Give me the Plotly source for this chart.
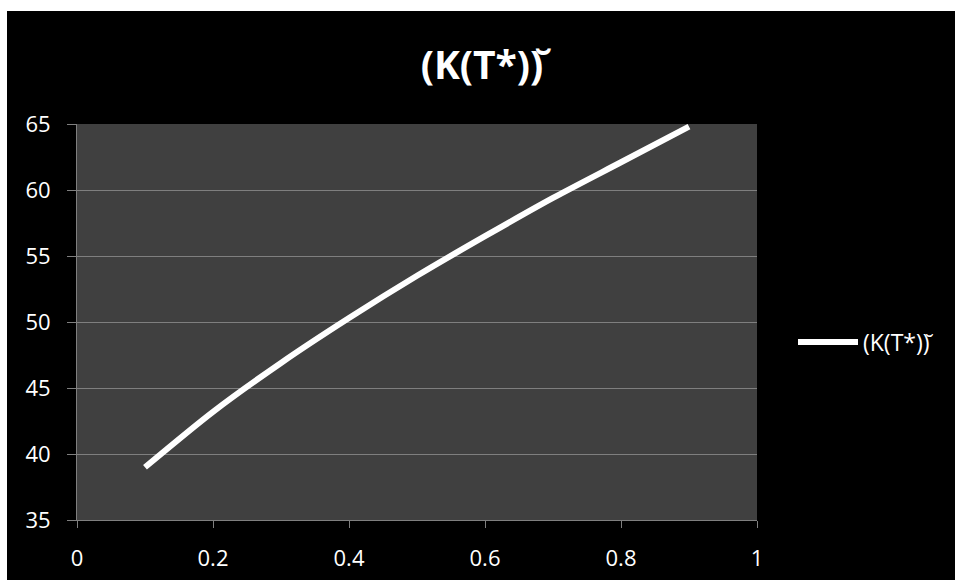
import plotly.graph_objects as go

x_vals = [0.1, 0.2, 0.3, 0.4, 0.5, 0.6, 0.7, 0.8, 0.9]
y_vals = [39.0, 43.2, 46.9, 50.3, 53.5, 56.5, 59.4, 62.1, 64.8]
series_name = "(K(T*))\u0306"
title_text = "(K(T*))\u0306"
x_ticks = [0, 0.2, 0.4, 0.6, 0.8, 1]
x_tick_labels = ["0", "0.2", "0.4", "0.6", "0.8", "1"]
y_ticks = [35, 40, 45, 50, 55, 60, 65]

W, H = 955, 580
L, R, T, B = 77, 198, 124, 60
PW, PH = W - L - R, H - T - B

def px_to_paper_x(px):
    return (px - L) / PW

def px_to_paper_y(py):
    return (H - B - py) / PH

FONT = "Open Sans"
grid = "#7f7f7f"

fig = go.Figure()
fig.add_trace(go.Scatter(
    x=x_vals, y=y_vals, mode="lines", name=series_name,
    line=dict(color="white", width=6, shape="spline", smoothing=0.8),
))

# white strips at top and left (outside the black chart area)
fig.add_shape(type="rect", xref="paper", yref="paper",
              x0=px_to_paper_x(-5), x1=px_to_paper_x(W + 5),
              y0=px_to_paper_y(11), y1=px_to_paper_y(-5),
              fillcolor="white", line=dict(width=0), layer="below")
fig.add_shape(type="rect", xref="paper", yref="paper",
              x0=px_to_paper_x(-5), x1=px_to_paper_x(7),
              y0=px_to_paper_y(H + 5), y1=px_to_paper_y(-5),
              fillcolor="white", line=dict(width=0), layer="below")

fig.update_layout(
    width=W, height=H, autosize=False,
    margin=dict(l=L, r=R, t=T, b=B, pad=0, autoexpand=False),
    paper_bgcolor="black",
    plot_bgcolor="#404040",
    font=dict(family=FONT, color="white", size=22),
    title=dict(text="<b>" + title_text + "</b>", x=px_to_paper_x(482), xref="paper",
               xanchor="center", y=1 - 65 / H, yanchor="middle",
               font=dict(family=FONT, size=39, color="white")),
    showlegend=True,
    legend=dict(x=px_to_paper_x(793), y=px_to_paper_y(342), xanchor="left", yanchor="middle",
                bgcolor="rgba(0,0,0,0)", font=dict(family=FONT, size=23, color="white"),
                itemwidth=60),
    xaxis=dict(range=[0, 1], tickvals=x_ticks, ticktext=x_tick_labels,
               showgrid=False, zeroline=False, automargin=False,
               showline=True, linecolor=grid, linewidth=1,
               ticks="outside", ticklen=7, tickcolor=grid, tickwidth=1,
               ticklabelstandoff=12,
               tickfont=dict(family=FONT, size=22, color="white")),
    yaxis=dict(range=[35, 65], tickvals=y_ticks,
               showgrid=True, gridcolor=grid, gridwidth=1, zeroline=False, automargin=False,
               showline=True, linecolor=grid, linewidth=1,
               ticks="outside", ticklen=9, tickcolor=grid, tickwidth=1,
               ticklabelstandoff=12,
               tickfont=dict(family=FONT, size=22, color="white")),
)

fig.write_html("out.html", config={"displayModeBar": False},
               post_script="document.body.style.margin='0';document.body.style.overflow='hidden';")
